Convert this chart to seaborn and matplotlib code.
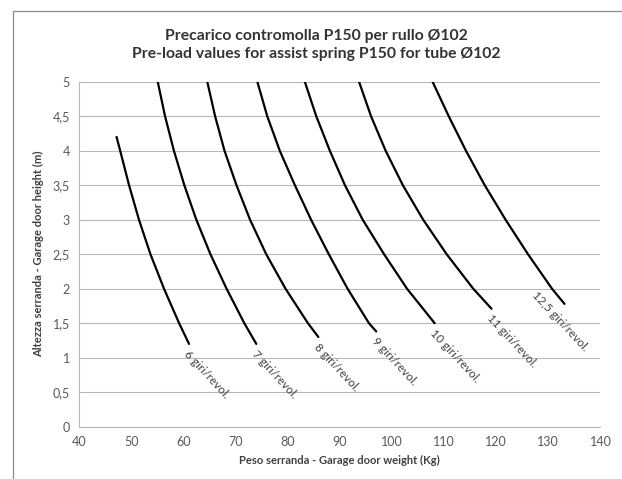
import pandas as pd
import seaborn as sns
import matplotlib.pyplot as plt
from matplotlib.lines import Line2D

# curve data: weight (Kg) vs door height (m)
h_6 = [4.2, 4.0, 3.5, 3.0, 2.5, 2.0, 1.5, 1.2]
w_6 = [47.2, 47.9, 49.6, 51.5, 53.7, 56.3, 59.2, 61.1]
h_7 = [5.0, 4.5, 4.0, 3.5, 3.0, 2.5, 2.0, 1.5, 1.2]
w_7 = [55.1, 56.5, 58.2, 60.2, 62.5, 65.2, 68.3, 71.7, 74.0]
h_8 = [5.0, 4.5, 4.0, 3.5, 3.0, 2.5, 2.0, 1.5, 1.3]
w_8 = [64.6, 66.1, 67.9, 70.2, 72.8, 75.9, 79.6, 83.9, 85.9]
h_9 = [5.0, 4.5, 4.0, 3.5, 3.0, 2.5, 2.0, 1.5, 1.38]
w_9 = [74.2, 76.1, 78.5, 81.4, 84.5, 87.9, 91.5, 95.6, 97.0]
h_10 = [5.0, 4.5, 4.0, 3.5, 3.0, 2.5, 2.0, 1.5]
w_10 = [83.3, 85.5, 88.1, 91.0, 94.4, 98.5, 102.9, 108.2]
h_11 = [5.0, 4.5, 4.0, 3.5, 3.0, 2.5, 2.0, 1.71]
w_11 = [93.7, 96.0, 98.8, 102.1, 106.0, 110.5, 115.6, 119.1]
h_125 = [5.0, 4.5, 4.0, 3.5, 3.0, 2.5, 2.0, 1.78]
w_125 = [107.8, 110.9, 114.2, 117.8, 121.8, 126.1, 130.7, 133.1]

curve_labels = ["6 giri/revol.", "7 giri/revol.", "8 giri/revol.", "9 giri/revol.",
                "10 giri/revol.", "11 giri/revol.", "12,5 giri/revol."]
heights = [h_6, h_7, h_8, h_9, h_10, h_11, h_125]
weights = [w_6, w_7, w_8, w_9, w_10, w_11, w_125]

title = "Precarico contromolla P150 per rullo Ø102\nPre-load values for assist spring P150 for tube Ø102"
xlabel = "Peso serranda - Garage door weight (Kg)"
ylabel = "Altezza serranda - Garage door height (m)"
xticks = [40, 50, 60, 70, 80, 90, 100, 110, 120, 130, 140]
yticks = [0, 0.5, 1, 1.5, 2, 2.5, 3, 3.5, 4, 4.5, 5]
ytick_labels = ["0", "0,5", "1", "1,5", "2", "2,5", "3", "3,5", "4", "4,5", "5"]

rows = []
for lab, hs, ws in zip(curve_labels, heights, weights):
    for h, w in zip(hs, ws):
        rows.append({"curve": lab, "weight": w, "height": h})
df = pd.DataFrame(rows)

sns.set_theme(style="white")
plt.rcParams['font.family'] = ['Lato', 'DejaVu Sans']

fig = plt.figure(figsize=(6.22, 4.79), dpi=100)
ax = fig.add_axes([0.127, 0.1092, 0.8384, 0.7202])

sns.lineplot(data=df, x="weight", y="height", units="curve", estimator=None,
             sort=False, color="black", linewidth=1.6, ax=ax)
for ln in ax.get_lines():
    ln.set_solid_joinstyle("round")

ax.set_xlim(40, 140)
ax.set_ylim(0, 5)
ax.set_xticks(xticks)
ax.set_yticks(yticks)
ax.set_yticklabels(ytick_labels)
ax.grid(axis="y", color="#b8b8b8", linewidth=0.8)
ax.grid(axis="x", visible=False)
ax.set_axisbelow(True)
for s in ["top", "right"]:
    ax.spines[s].set_visible(False)
for s in ["left", "bottom"]:
    ax.spines[s].set_color("#b8b8b8")
    ax.spines[s].set_linewidth(0.8)
ax.tick_params(axis="both", which="major", direction="out", length=3.5, width=0.8,
               color="#b8b8b8", labelsize=9, labelcolor="#595959", pad=3)
ax.set_xlabel(xlabel, fontsize=8, fontweight="bold", color="#404040", labelpad=5)
ax.set_ylabel(ylabel, fontsize=8, fontweight="bold", color="#404040", labelpad=6)

# curve end labels
offsets = [(1, -3), (1, -3), (1, -3), (1, -3), (1, -3), (1, -3), (-19, 10)]
for lab, hs, ws, off in zip(curve_labels, heights, weights, offsets):
    ax.annotate(lab, xy=(ws[-1], hs[-1]), xytext=off, textcoords="offset points",
                rotation=-47, rotation_mode="anchor", ha="left", va="top",
                fontsize=8.5, color="#404040")

fig.text(0.508, 0.906, title, ha="center", va="center", fontsize=11.3,
         fontweight="bold", color="#333333", linespacing=1.35)

# chart-area border (left and top edges visible)
fig.add_artist(Line2D([13 / 622, 13 / 622], [0, 1 - 10.5 / 479], transform=fig.transFigure,
                      color="#8c8c8c", linewidth=0.9))
fig.add_artist(Line2D([13 / 622, 1], [1 - 10.5 / 479, 1 - 10.5 / 479], transform=fig.transFigure,
                      color="#8c8c8c", linewidth=0.9))

fig.savefig("out.png", dpi=100)
